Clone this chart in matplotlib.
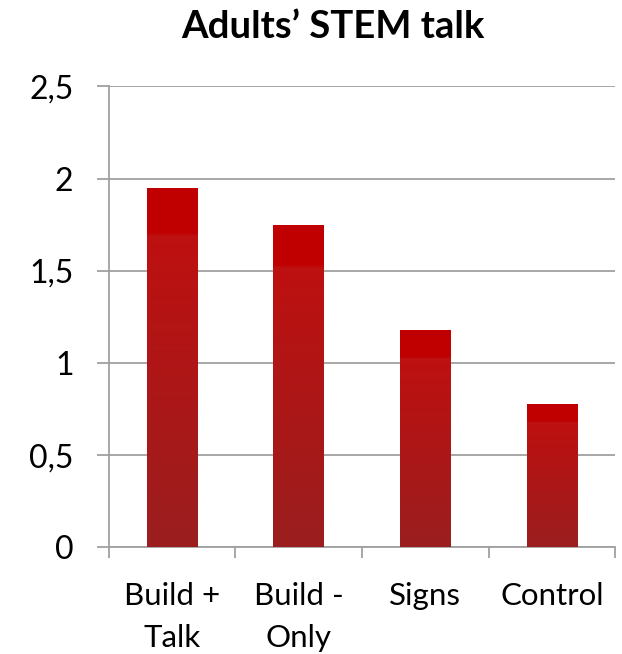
import matplotlib.pyplot as plt
import numpy as np
from matplotlib.colors import LinearSegmentedColormap
from matplotlib.ticker import FuncFormatter

# mean STEM talk per condition
categories = ["Build +\nTalk", "Build -\nOnly", "Signs", "Control"]
values = [1.95, 1.75, 1.18, 0.78]

plt.rcParams['font.family'] = ['Lato', 'DejaVu Sans']

fig = plt.figure(figsize=(6.22, 6.54), dpi=100)
ax = fig.add_axes([0.175, 0.163, 0.814, 0.705])

x = np.arange(len(categories))
bars = ax.bar(x, values, width=0.40, color='none', edgecolor='none', zorder=3)

# red fill: solid band on top, darker toward the base
cmap = LinearSegmentedColormap.from_list(
    "redbar", [(0.0, "#9b1e1f"), (0.87, "#be1010"), (0.871, "#c00000"), (1.0, "#c00000")])
grad = np.linspace(0, 1, 256).reshape(-1, 1)
for b in bars:
    x0, w, h = b.get_x(), b.get_width(), b.get_height()
    im = ax.imshow(grad, cmap=cmap, aspect='auto', origin='lower',
                   extent=[x0, x0 + w, 0, h], zorder=3, interpolation='bilinear')
    im.set_clip_path(b)

ax.set_xlim(-0.5, len(categories) - 0.5)
ax.set_ylim(0, 2.5)
ax.set_yticks(np.arange(0, 2.51, 0.5))
ax.yaxis.set_major_formatter(FuncFormatter(lambda v, p: f"{v:g}".replace('.', ',')))
ax.set_xticks(x)
ax.set_xticklabels(categories, linespacing=1.6)
ax.set_xticks(np.arange(-0.5, len(categories)), minor=True)

grid_c = '#a0a0a0'
ax.grid(axis='y', color=grid_c, linewidth=1.3, zorder=0)
for s in ['top', 'right']:
    ax.spines[s].set_visible(False)
for s in ['left', 'bottom']:
    ax.spines[s].set_color(grid_c)
    ax.spines[s].set_linewidth(1.3)

ax.tick_params(axis='y', length=8.5, width=1.3, color=grid_c, labelsize=23, pad=17)
ax.tick_params(axis='x', which='major', length=0, labelsize=22.5, pad=25)
ax.tick_params(axis='x', which='minor', length=8, width=1.3, color=grid_c)

fig.text(333 / 622, 1 - 27 / 654, "Adults\u2019 STEM talk", fontsize=27.5,
         fontweight='bold', ha='center', va='center')

fig.savefig("out.png", dpi=100)
